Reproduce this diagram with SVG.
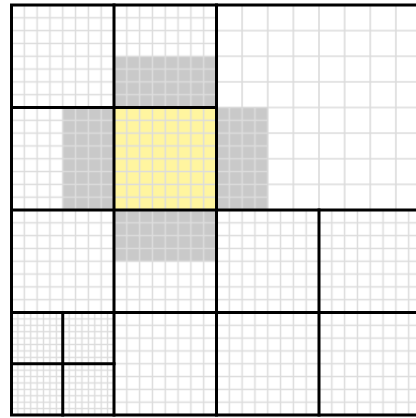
<svg xmlns="http://www.w3.org/2000/svg" width="416" height="418" viewBox="0 0 416 418">
<style>
.thick{stroke:#000;stroke-width:3;fill:none;stroke-linecap:square}
.halo{fill:#c9c9c9}
.core{fill:#fff59f}
</style>
<defs>
<pattern id="g6" patternUnits="userSpaceOnUse" x="8.296875" y="1.796875" width="6.40625" height="6.40625">
<path d="M3.203125 0V6.40625M0 3.203125H6.40625" stroke="#dcdcdc" stroke-width="1.4" fill="none"/>
</pattern>
<pattern id="g12" patternUnits="userSpaceOnUse" x="5.09375" y="-1.40625" width="12.8125" height="12.8125">
<path d="M6.40625 0V12.8125M0 6.40625H12.8125" stroke="#dcdcdc" stroke-width="1.5" fill="none"/>
</pattern>
<pattern id="g25" patternUnits="userSpaceOnUse" x="-1.3125" y="-7.8125" width="25.625" height="25.625">
<path d="M12.8125 0V25.625M0 12.8125H25.625" stroke="#dcdcdc" stroke-width="1.6" fill="none"/>
</pattern>
</defs>
<rect width="416" height="418" fill="#fff"/>
<g id="cell-top-right">
<rect x="216.5" y="5" width="205" height="205" fill="url(#g25)"/>
</g>
<g id="halo">
<rect class="halo" x="114" y="56.25" width="102.5" height="51.25"/>
<rect class="halo" x="62.75" y="107.5" width="51.25" height="102.5"/>
<rect class="halo" x="216.5" y="107.5" width="51.25" height="102.5"/>
<rect class="halo" x="114" y="210" width="102.5" height="51.25"/>
</g>
<g id="cell-core">
<rect class="core" x="114" y="107.5" width="102.5" height="102.5"/>
</g>
<g id="fine-cells">
<rect x="11.5" y="5" width="205" height="205" fill="url(#g12)"/>
<rect x="216.5" y="107.5" width="51.25" height="102.5" fill="url(#g12)"/>
<rect x="11.5" y="210" width="205" height="102.5" fill="url(#g12)"/>
<rect x="114" y="312.5" width="102.5" height="102.5" fill="url(#g12)"/>
<rect x="216.5" y="210" width="205" height="205" fill="url(#g12)"/>
</g>
<g id="cell-bottom-left-finest">
<rect x="11.5" y="312.5" width="102.5" height="102.5" fill="url(#g6)"/>
</g>
<g id="borders">
<path class="thick" d="M11.5 5H421.5M11.5 415H421.5M11.5 5V415"/>
<path class="thick" d="M11.5 107.5H216.5M11.5 210H421.5M11.5 312.5H421.5M11.5 363.75H114"/>
<path class="thick" d="M114 5V415M216.5 5V415M319 210V415M62.75 312.5V415"/>
</g>
</svg>
